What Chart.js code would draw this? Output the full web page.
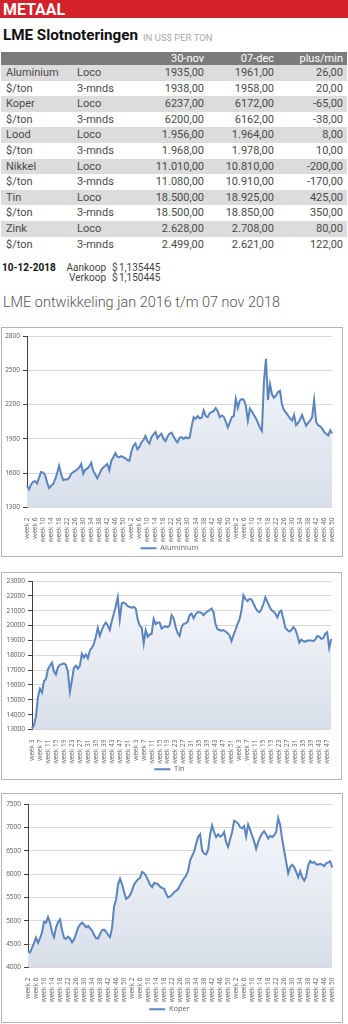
<!DOCTYPE html>
<html lang="nl">
<head>
<meta charset="utf-8">
<title>Metaal</title>
<script src="https://cdn.jsdelivr.net/npm/chart.js@4.4.0/dist/chart.umd.min.js"></script>
<style>
  body { margin: 0; width: 348px; height: 1024px; position: relative; overflow: hidden; background: #fff;
         font-family: Roboto, "Open Sans", sans-serif; color: #4a4a4a; }
  .abs { position: absolute; white-space: nowrap; }
  .fit { transform-origin: 0 50%; display: inline-block; }
  #band { left: 0; top: 0; width: 348px; height: 18px; background: #d3222a; }
  #band span { position: absolute; left: 3px; top: 1px; font: 700 17px/17px Roboto, sans-serif; color: #fff; }
  #head { left: 3px; top: 29px; font: 700 14.5px/14.5px Roboto, sans-serif; color: #111; }
  #unit { left: 143px; top: 33px; font: 400 9.5px/9.5px Roboto, sans-serif; color: #aaa; }
  .row { position: absolute; left: 1px; width: 346px; height: 15.6px; font: 400 11px/15.6px Roboto, sans-serif; }
  .row.grey { background: #dcdcdc; }
  .row.top { background: #7b7b7b; color: #fff; height: 13px; line-height: 13px; }
  .row div { position: absolute; top: 0; }
  .r { text-align: right; }
  .koers { font: 400 10px/10px Roboto, sans-serif; color: #444; }
  #title { left: 3px; top: 295px; font: 300 15.5px/15.5px Roboto, sans-serif; color: #555; }
  .frame { position: absolute; box-sizing: border-box; border: 1px solid #b5b5b5; pointer-events: none; }
  canvas { position: absolute; }
</style>
</head>
<body>
<div class="abs" id="band"><span class="fit" data-w="62">METAAL</span></div>
<div class="abs" id="head"><span class="fit" data-w="135">LME Slotnoteringen</span></div>
<div class="abs" id="unit">IN US$ PER TON</div>
<div id="table"></div>

<div class="abs koers" style="left:2px; top:263px; font-weight:700; color:#111;">10-12-2018</div>
<div class="abs koers r" style="left:60px; width:46px; top:263px;">Aankoop</div>
<div class="abs koers" style="left:112px; top:263px;">$</div>
<div class="abs koers" style="left:119px; top:263px;">1,135445</div>
<div class="abs koers r" style="left:60px; width:46px; top:273px;">Verkoop</div>
<div class="abs koers" style="left:112px; top:273px;">$</div>
<div class="abs koers" style="left:119px; top:273px;">1,150445</div>

<div class="abs" id="title"><span class="fit" data-w="277">LME ontwikkeling jan 2016 t/m 07 nov 2018</span></div>

<canvas id="alu" style="left:2px; top:328px;" width="340" height="234"></canvas>
<div class="frame" style="left:1px; top:327px; width:342px; height:230px;"></div>
<canvas id="tin" style="left:2px; top:573px;" width="339" height="210"></canvas>
<div class="frame" style="left:1px; top:572px; width:341px; height:208px;"></div>
<canvas id="koper" style="left:2px; top:794px;" width="340" height="229"></canvas>
<div class="frame" style="left:1px; top:793px; width:342px; height:230px;"></div>

<script>
// slotnoteringen
const metals = ['Aluminium', '$/ton', 'Koper', '$/ton', 'Lood', '$/ton', 'Nikkel', '$/ton', 'Tin', '$/ton', 'Zink', '$/ton'];
const terms = ['Loco', '3-mnds', 'Loco', '3-mnds', 'Loco', '3-mnds', 'Loco', '3-mnds', 'Loco', '3-mnds', 'Loco', '3-mnds'];
const close30nov = ['1935,00', '1938,00', '6237,00', '6200,00', '1.956,00', '1.968,00', '11.010,00', '11.080,00', '18.500,00', '18.500,00', '2.628,00', '2.499,00'];
const close07dec = ['1961,00', '1958,00', '6172,00', '6162,00', '1.964,00', '1.978,00', '10.810,00', '10.910,00', '18.925,00', '18.850,00', '2.708,00', '2.621,00'];
const plusMin = ['26,00', '20,00', '-65,00', '-38,00', '8,00', '10,00', '-200,00', '-170,00', '425,00', '350,00', '80,00', '122,00'];

// weekly LME prices, jan 2016 - nov 2018
const aluminium = [
  1490, 1460, 1500, 1525, 1530, 1510, 1560, 1610, 1605, 1585, 1520, 1470, 1490, 1505, 1545, 1600,
  1665, 1590, 1540, 1545, 1545, 1560, 1595, 1610, 1620, 1635, 1650, 1680, 1595, 1630, 1640, 1660,
  1690, 1620, 1590, 1555, 1590, 1630, 1650, 1665, 1680, 1625, 1710, 1740, 1775, 1745, 1740, 1750,
  1740, 1730, 1715,
  1710, 1790, 1840, 1860, 1810, 1830, 1870, 1890, 1925, 1880, 1860, 1915, 1940, 1960, 1905, 1930,
  1945, 1900, 1880, 1920, 1945, 1955, 1920, 1890, 1870, 1910, 1915, 1900, 1915, 1905, 1910, 2010,
  2090, 2075, 2100, 2080, 2085, 2150, 2100, 2090, 2125, 2135, 2145, 2170, 2140, 2090, 2105, 2095,
  2050, 2000, 2045, 2090,
  2100, 2250, 2170, 2235, 2250, 2240, 2190, 2060, 2165, 2140, 2110, 2080, 2040, 2000, 1970, 2400,
  2600, 2240, 2380, 2290, 2260, 2280, 2310, 2320, 2200, 2150, 2130, 2105, 2080, 2060, 2110, 2020,
  2040, 2070, 2110, 2060, 2015, 2040, 2060, 2090, 2240, 2050, 2020, 2010, 1990, 1960, 1945, 1930,
  1975, 1950
];
const tin = [
  13070, 13300, 13900, 15200, 15750, 15500, 16250, 16400, 17050, 17300, 17500, 16900, 16700, 17200,
  17350, 17400, 17450, 17350, 16900, 15550, 16300, 17150, 17300, 17100, 17300, 18100, 17850, 18050,
  17800, 18300, 18500, 18750, 19250, 19850, 19300, 19700, 20000, 20200, 20000, 19700, 20300, 20800,
  21300, 21900, 20400, 21500, 21550, 21450, 21300, 21250,
  21200, 21250, 21150, 20400, 20000, 19850, 18800, 19700, 19250, 19400, 19450, 20450, 20100, 20200,
  20200, 19800, 19900, 19950, 19900, 20000, 20700, 20500, 19900, 19500, 19300, 19900, 20100, 20150,
  20250, 20700, 20800, 20500, 20750, 20900, 20900, 20850, 20700, 20850, 20950, 21050, 21150, 20900,
  20100, 19750, 19700, 19650, 19700, 19600, 19500, 19350, 18950, 19350,
  19700, 20100, 20400, 21000, 22050, 21800, 21650, 21800, 21750, 21500, 21200, 21000, 20900, 21100,
  21450, 21900, 21600, 21300, 21050, 20950, 20800, 20550, 20900, 21000, 20450, 19850, 19700, 19600,
  19700, 19900, 19750, 19350, 18850, 19050, 18950, 18900, 19000, 19000, 19000, 18950, 19050, 19300,
  19250, 19100, 19150, 19450, 19550, 18500, 19100
];
const koper = [
  4350, 4320, 4420, 4520, 4640, 4530, 4630, 4750, 4980, 4960, 5080, 4960, 4760, 4650, 4860, 4970,
  5030, 4800, 4640, 4610, 4660, 4620, 4540, 4600, 4720, 4850, 4920, 4960, 4920, 4860, 4890, 4840,
  4790, 4700, 4630, 4620, 4720, 4800, 4810, 4770, 4700, 4650, 4850, 5300, 5450, 5780, 5900, 5780,
  5620, 5470, 5500,
  5550, 5650, 5780, 5840, 5890, 5920, 6050, 6020, 5960, 5870, 5770, 5720, 5810, 5800, 5780, 5730,
  5700, 5690, 5580, 5500, 5520, 5560, 5610, 5640, 5680, 5760, 5840, 5910, 5970, 6070, 6290, 6390,
  6480, 6650, 6800, 6850, 6500, 6440, 6420, 6520, 6850, 7040, 6900, 6790, 6850, 6800, 6830, 6900,
  6680, 6580, 6750, 6900,
  7140, 7120, 7080, 7000, 6980, 7030, 6800, 7060, 6950, 6820, 6700, 6540, 6680, 6790, 6870, 6920,
  6850, 6760, 6820, 6790, 6830, 6900, 7200, 7050, 6750, 6500, 6260, 6020, 6150, 6200, 6150, 6050,
  5930, 6060, 5930, 5860, 5950, 6180, 6280, 6240, 6260, 6210, 6200, 6220, 6200, 6170, 6230, 6250,
  6270, 6140
];

// week numbers per year for each series
function weeks(from, to) {
  const out = [];
  for (let w = from; w <= to; w++) out.push(w);
  return out;
}
const aluWeeks = weeks(2, 52).concat(weeks(1, 52), weeks(1, 50));
const tinWeeks = weeks(3, 52).concat(weeks(1, 52), weeks(1, 49));
const koperWeeks = weeks(2, 52).concat(weeks(1, 52), weeks(1, 50));

// table
const table = document.getElementById('table');
function addRow(cls, top, cells) {
  const row = document.createElement('div');
  row.className = 'row ' + cls;
  row.style.top = top + 'px';
  row.innerHTML =
    `<div style="left:5px">${cells[0]}</div>` +
    `<div style="left:76px">${cells[1]}</div>` +
    `<div class="r" style="left:140px;width:63px">${cells[2]}</div>` +
    `<div class="r" style="left:210px;width:63px">${cells[3]}</div>` +
    `<div class="r" style="left:280px;width:62px">${cells[4]}</div>`;
  table.appendChild(row);
}
addRow('top', 52, ['', '', '30-nov', '07-dec', 'plus/min']);
metals.forEach((m, i) => {
  addRow(i % 2 === 0 ? 'grey' : '', 65 + i * 15.6, [m, terms[i], close30nov[i], close07dec[i], plusMin[i]]);
});

// squeeze the condensed headings to their width
document.querySelectorAll('.fit').forEach((el) => {
  el.style.transform = `scaleX(${el.dataset.w / el.getBoundingClientRect().width})`;
});

Chart.defaults.font.family = '"Open Sans", sans-serif';
Chart.defaults.animation = false;

function areaFill(context) {
  const { ctx, chartArea } = context.chart;
  if (!chartArea) return '#e4e9f1';
  const g = ctx.createLinearGradient(0, chartArea.top, 0, chartArea.bottom);
  g.addColorStop(0, '#f8f9fc');
  g.addColorStop(1, '#d8dfea');
  return g;
}

function lmeChart(id, name, weekList, values, firstWeek, yMin, yMax, step, yWidth, xHeight, padding) {
  return new Chart(document.getElementById(id), {
    type: 'line',
    data: {
      labels: weekList.map((w) => 'week ' + w),
      datasets: [{
        label: name,
        data: values,
        borderColor: '#5a84bd',
        borderWidth: 2,
        backgroundColor: areaFill,
        fill: 'start',
        pointRadius: 0,
        tension: 0,
      }],
    },
    options: {
      responsive: false,
      layout: { padding },
      plugins: {
        tooltip: { enabled: false },
        legend: {
          position: 'bottom',
          labels: {
            usePointStyle: true,
            pointStyle: 'line',
            pointStyleWidth: 16,
            padding: 2,
            color: '#666',
            font: { size: 7.5 },
          },
        },
      },
      scales: {
        x: {
          grid: { display: false },
          border: { display: false },
          afterFit: (scale) => { scale.height = xHeight; },
          ticks: {
            autoSkip: false,
            minRotation: 90,
            maxRotation: 90,
            padding: 2,
            color: '#666',
            font: { size: 6.5 },
            callback: (v, i) => ((weekList[i] - firstWeek) % 4 === 0 ? 'week ' + weekList[i] : ''),
          },
        },
        y: {
          min: yMin,
          max: yMax,
          grid: { color: '#d9d9d9', tickColor: '#404040', tickLength: 4 },
          border: { color: '#404040' },
          afterFit: (scale) => { scale.width = yWidth; },
          ticks: {
            stepSize: step,
            padding: 3,
            color: '#595959',
            font: { size: 6.5 },
            callback: (v) => String(v),
          },
        },
      },
    },
  });
}

lmeChart('alu', 'Aluminium', aluWeeks, aluminium, 2, 1300, 2800, 300, 25, 35, { top: 8, right: 5 });
lmeChart('tin', 'Tin', tinWeeks, tin, 3, 13000, 23000, 1000, 30, 34, { top: 8, right: 4 });
lmeChart('koper', 'Koper', koperWeeks, koper, 2, 4000, 7500, 500, 26, 36, { top: 10, right: 5 });
</script>
</body>
</html>
